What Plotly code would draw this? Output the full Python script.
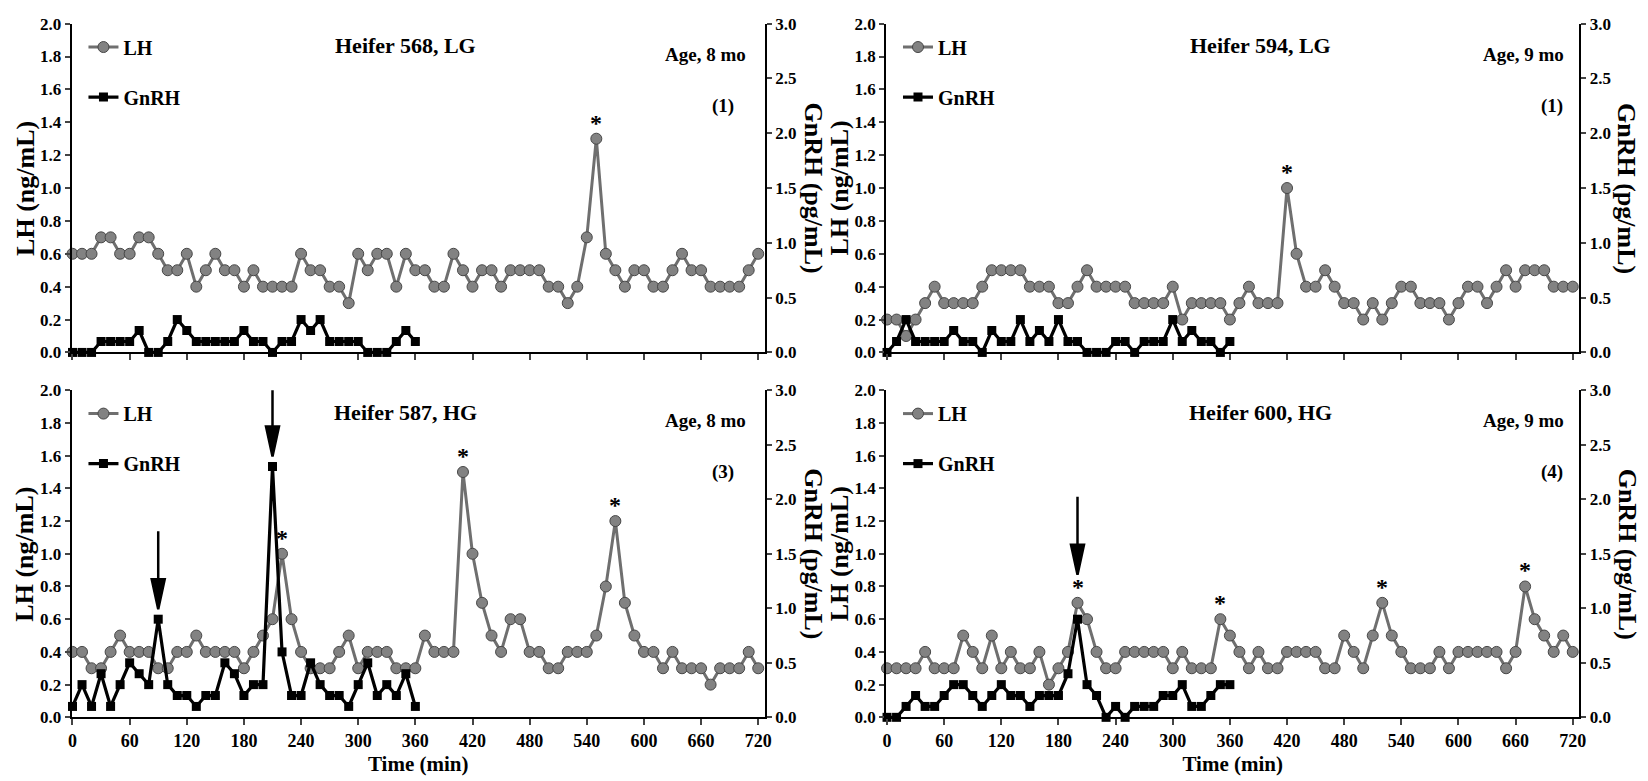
import plotly.graph_objects as go

# ---------------- data ----------------
TIME_LH = list(range(0, 721, 10))      # LH sampled every 10 min, 0-720
TIME_GNRH = list(range(0, 361, 10))    # GnRH sampled every 10 min, 0-360
X_TICKS = list(range(0, 721, 60))

LH_568 = [0.6, 0.6, 0.6, 0.7, 0.7, 0.6, 0.6, 0.7, 0.7, 0.6,
          0.5, 0.5, 0.6, 0.4, 0.5, 0.6, 0.5, 0.5, 0.4, 0.5,
          0.4, 0.4, 0.4, 0.4, 0.6, 0.5, 0.5, 0.4, 0.4, 0.3,
          0.6, 0.5, 0.6, 0.6, 0.4, 0.6, 0.5, 0.5,
          0.4, 0.4, 0.6, 0.5, 0.4, 0.5, 0.5, 0.4, 0.5, 0.5,
          0.5, 0.5, 0.4, 0.4, 0.3, 0.4, 0.7, 1.3, 0.6, 0.5,
          0.4, 0.5, 0.5, 0.4, 0.4, 0.5, 0.6, 0.5, 0.5, 0.4,
          0.4, 0.4, 0.4, 0.5, 0.6]
GNRH_568 = [0, 0, 0, 0.1, 0.1, 0.1, 0.1, 0.2, 0, 0,
            0.1, 0.3, 0.2, 0.1, 0.1, 0.1, 0.1, 0.1, 0.2, 0.1,
            0.1, 0, 0.1, 0.1, 0.3, 0.2, 0.3, 0.1, 0.1, 0.1,
            0.1, 0, 0, 0, 0.1, 0.2, 0.1]

LH_594 = [0.2, 0.2, 0.1, 0.2, 0.3, 0.4, 0.3, 0.3, 0.3, 0.3,
          0.4, 0.5, 0.5, 0.5, 0.5, 0.4, 0.4, 0.4, 0.3, 0.3,
          0.4, 0.5, 0.4, 0.4, 0.4, 0.4, 0.3, 0.3, 0.3, 0.3,
          0.4, 0.2, 0.3, 0.3, 0.3, 0.3, 0.2, 0.3,
          0.4, 0.3, 0.3, 0.3, 1.0, 0.6, 0.4, 0.4, 0.5, 0.4,
          0.3, 0.3, 0.2, 0.3, 0.2, 0.3, 0.4, 0.4, 0.3, 0.3,
          0.3, 0.2, 0.3, 0.4, 0.4, 0.3, 0.4, 0.5, 0.4, 0.5,
          0.5, 0.5, 0.4, 0.4, 0.4]
GNRH_594 = [0, 0.1, 0.3, 0.1, 0.1, 0.1, 0.1, 0.2, 0.1, 0.1,
            0, 0.2, 0.1, 0.1, 0.3, 0.1, 0.2, 0.1, 0.3, 0.1,
            0.1, 0, 0, 0, 0.1, 0.1, 0, 0.1, 0.1, 0.1,
            0.3, 0.1, 0.2, 0.1, 0.1, 0, 0.1]

LH_587 = [0.4, 0.4, 0.3, 0.3, 0.4, 0.5, 0.4, 0.4, 0.4, 0.3,
          0.3, 0.4, 0.4, 0.5, 0.4, 0.4, 0.4, 0.4, 0.3, 0.4,
          0.5, 0.6, 1.0, 0.6, 0.4, 0.3, 0.3, 0.3, 0.4, 0.5,
          0.3, 0.4, 0.4, 0.4, 0.3, 0.3, 0.3, 0.5,
          0.4, 0.4, 0.4, 1.5, 1.0, 0.7, 0.5, 0.4, 0.6, 0.6,
          0.4, 0.4, 0.3, 0.3, 0.4, 0.4, 0.4, 0.5, 0.8, 1.2,
          0.7, 0.5, 0.4, 0.4, 0.3, 0.4, 0.3, 0.3, 0.3, 0.2,
          0.3, 0.3, 0.3, 0.4, 0.3]
GNRH_587 = [0.1, 0.3, 0.1, 0.4, 0.1, 0.3, 0.5, 0.4, 0.3, 0.9,
            0.3, 0.2, 0.2, 0.1, 0.2, 0.2, 0.5, 0.4, 0.2, 0.3,
            0.3, 2.3, 0.6, 0.2, 0.2, 0.5, 0.3, 0.2, 0.2, 0.1,
            0.3, 0.5, 0.2, 0.3, 0.2, 0.4, 0.1]

LH_600 = [0.3, 0.3, 0.3, 0.3, 0.4, 0.3, 0.3, 0.3, 0.5, 0.4,
          0.3, 0.5, 0.3, 0.4, 0.3, 0.3, 0.4, 0.2, 0.3, 0.4,
          0.7, 0.6, 0.4, 0.3, 0.3, 0.4, 0.4, 0.4, 0.4, 0.4,
          0.3, 0.4, 0.3, 0.3, 0.3, 0.6, 0.5, 0.4,
          0.3, 0.4, 0.3, 0.3, 0.4, 0.4, 0.4, 0.4, 0.3, 0.3,
          0.5, 0.4, 0.3, 0.5, 0.7, 0.5, 0.4, 0.3, 0.3, 0.3,
          0.4, 0.3, 0.4, 0.4, 0.4, 0.4, 0.4, 0.3, 0.4, 0.8,
          0.6, 0.5, 0.4, 0.5, 0.4]
GNRH_600 = [0, 0, 0.1, 0.2, 0.1, 0.1, 0.2, 0.3, 0.3, 0.2,
            0.1, 0.2, 0.3, 0.2, 0.2, 0.1, 0.2, 0.2, 0.2, 0.4,
            0.9, 0.3, 0.2, 0, 0.1, 0, 0.1, 0.1, 0.1, 0.2,
            0.2, 0.3, 0.1, 0.1, 0.2, 0.3, 0.3]

TITLES = ["Heifer 568, LG", "Heifer 594, LG", "Heifer 587, HG", "Heifer 600, HG"]
AGES = ["Age, 8 mo", "Age, 9 mo", "Age, 8 mo", "Age, 9 mo"]
PULSE_COUNTS = ["(1)", "(1)", "(3)", "(4)"]
LH_SERIES = [LH_568, LH_594, LH_587, LH_600]
GNRH_SERIES = [GNRH_568, GNRH_594, GNRH_587, GNRH_600]
LH_PULSES = [[550], [420], [220, 410, 570], [200, 350, 520, 670]]   # asterisks
GNRH_PULSE_ARROWS = [[], [], [90, 210], [200]]                       # arrows

LH_RANGE = [0, 2.0]
GNRH_RANGE = [0, 3.0]

# ---------------- layout geometry ----------------
W, H = 1648, 781
FONT = "Liberation Serif, Times New Roman, serif"
X_DOMAINS = [[68 / W, 766 / W], [888 / W, 1586 / W]]
Y_DOMAINS = [[1 - 352 / H, 1 - 15 / H], [1 - 726 / H, 1 - 390.7 / H]]
TITLE_X = [350, 392]
AGE_X = [665, 668]
COUNT_X = [683, 698]

LH_COLOR = "#6f6f6f"
LH_FILL = "#828282"

fig = go.Figure()
layout = dict(
    width=W, height=H,
    margin=dict(l=0, r=0, t=0, b=0),
    paper_bgcolor="white", plot_bgcolor="rgba(0,0,0,0)",
    font=dict(family=FONT, size=18, color="black", weight="bold"),
    showlegend=True,
    annotations=[], shapes=[],
)

ratio = LH_RANGE[1] / GNRH_RANGE[1]

for i in range(4):
    row, col = divmod(i, 2)
    xd = X_DOMAINS[col]
    yd = Y_DOMAINS[row]
    xn = "" if i == 0 else str(i + 1)
    yl = "" if i == 0 else str(2 * i + 1)
    yr = str(2 * i + 2)
    leg = "legend" if i == 0 else f"legend{i + 1}"

    fig.add_trace(go.Scatter(
        x=TIME_LH, y=LH_SERIES[i], name="LH", mode="lines+markers",
        xaxis="x" + xn, yaxis="y" + yl, legend=leg, legendgroup=f"lh{i}",
        line=dict(color=LH_COLOR, width=3),
        marker=dict(symbol="circle", size=11, color=LH_FILL,
                    line=dict(color="#474747", width=1)),
        cliponaxis=False,
    ))
    fig.add_trace(go.Scatter(
        x=TIME_GNRH, y=GNRH_SERIES[i], name="GnRH", mode="lines+markers",
        xaxis="x" + xn, yaxis="y" + yr, legend=leg, legendgroup=f"gn{i}",
        line=dict(color="black", width=3.2),
        marker=dict(symbol="square", size=9, color="black"),
        cliponaxis=False,
    ))

    layout["xaxis" + xn] = dict(
        domain=xd, anchor="y" + yl, range=[-1, 727],
        tickvals=X_TICKS, ticks="outside", ticklen=6, tickwidth=1.5,
        showticklabels=(row == 1), showline=True, linecolor="black", linewidth=2,
        showgrid=False, zeroline=False,
        tickfont=dict(family=FONT, size=18, weight="bold"),
        title=dict(text="Time (min)" if row == 1 else "",
                   font=dict(family=FONT, size=21, weight="bold"), standoff=6),
    )
    layout["yaxis" + yl] = dict(
        domain=yd, anchor="x" + xn, range=LH_RANGE, dtick=0.2, tickformat=".1f",
        ticks="outside", ticklen=5, tickwidth=1.5, showline=True,
        linecolor="black", linewidth=2, showgrid=False, zeroline=False,
        tickfont=dict(family=FONT, size=17, weight="bold"),
    )
    layout["yaxis" + yr] = dict(
        domain=yd, anchor="x" + xn, overlaying="y" + yl, side="right",
        range=GNRH_RANGE, dtick=0.5, tickformat=".1f",
        ticks="outside", ticklen=5, tickwidth=1.5, showline=True,
        linecolor="black", linewidth=2, showgrid=False, zeroline=False,
        tickfont=dict(family=FONT, size=17, weight="bold"),
    )

    # legend inside panel (upper left)
    leg_left_px = (80 if col == 0 else 900)
    leg_top_px = (19 if row == 0 else 394.7)
    layout[leg] = dict(
        x=leg_left_px / W, y=1 - leg_top_px / H, xanchor="left", yanchor="top",
        bgcolor="rgba(0,0,0,0)", tracegroupgap=21,
        font=dict(family=FONT, size=20, color="black", weight="bold"),
        itemwidth=30,
    )

    xref = "x" + xn
    yref = "y" + yl
    ann = layout["annotations"]
    ann.append(dict(text=TITLES[i], x=TITLE_X[col], y=1.865, xref=xref, yref=yref,
                    showarrow=False, font=dict(family=FONT, size=22, weight="bold")))
    ann.append(dict(text=AGES[i], x=AGE_X[col], y=1.815, xref=xref, yref=yref,
                    showarrow=False, font=dict(family=FONT, size=19, weight="bold")))
    ann.append(dict(text=PULSE_COUNTS[i], x=COUNT_X[col], y=1.50, xref=xref, yref=yref,
                    showarrow=False, font=dict(family=FONT, size=19, weight="bold")))
    for t in LH_PULSES[i]:
        v = LH_SERIES[i][TIME_LH.index(t)]
        ann.append(dict(text="*", x=t, y=v, xref=xref, yref=yref, yshift=16,
                        showarrow=False, font=dict(family=FONT, size=24, weight="bold")))

    # arrows over GnRH pulses
    for t in GNRH_PULSE_ARROWS[i]:
        g = GNRH_SERIES[i][TIME_GNRH.index(t)] * ratio
        lhv = LH_SERIES[i][TIME_LH.index(t)]
        if t in LH_PULSES[i] and lhv > g:
            anchor, gap = lhv, 28
        else:
            anchor, gap = g, 10
        layout["shapes"].append(dict(
            type="path", xref=xref, yref=yref, xsizemode="pixel", ysizemode="pixel",
            xanchor=t, yanchor=anchor,
            path=f"M0,{gap + 28} L0,{gap + 78} M-6.5,{gap + 30} L6.5,{gap + 30} L0,{gap} Z",
            line=dict(color="black", width=2.5), fillcolor="black", layer="above",
        ))

    # y axis titles
    left_px = 21 if col == 0 else 841
    right_px = 815 if col == 0 else 1634
    ymid = (yd[0] + yd[1]) / 2
    layout["annotations"].append(dict(
        text="LH (ng/mL)", x=left_px / W, y=ymid, xref="paper", yref="paper",
        xanchor="center", yanchor="middle",
        textangle=-90, showarrow=False, font=dict(family=FONT, size=26, weight="bold")))
    layout["annotations"].append(dict(
        text="GnRH (pg/mL)", x=right_px / W, y=ymid, xref="paper", yref="paper",
        xanchor="center", yanchor="middle",
        textangle=90, showarrow=False, font=dict(family=FONT, size=26, weight="bold")))

fig.update_layout(**layout)
fig.write_html("out.html", config={"displayModeBar": False},
               post_script="document.body.style.margin='0';")
